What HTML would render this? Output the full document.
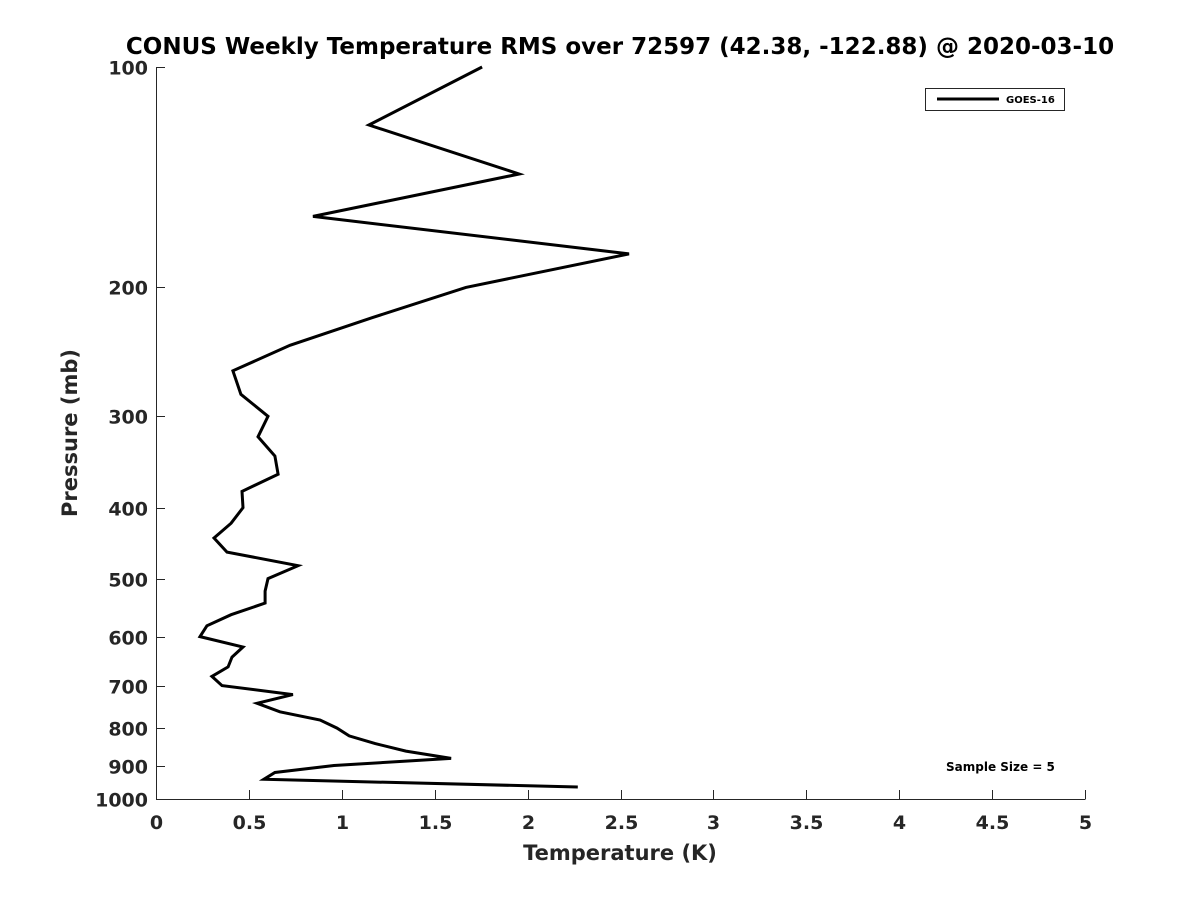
<!DOCTYPE html>
<html><head><meta charset="utf-8"><style>
body{margin:0;background:#fff}
svg text{font-family:"DejaVu Sans","Liberation Sans",sans-serif;font-weight:bold;fill:#262626}
</style></head><body>
<svg width="1200" height="900" xmlns="http://www.w3.org/2000/svg" id="svg">
<rect width="1200" height="900" fill="#fff"/>
<text x="620" y="54" font-size="23" text-anchor="middle" style="fill:#000">CONUS Weekly Temperature RMS over 72597 (42.38, -122.88) @ 2020-03-10</text>
<g id="axes"></g>
<polyline id="line" fill="none" stroke="#000" stroke-width="3" stroke-linejoin="miter"/>
<text x="620" y="860" font-size="21" text-anchor="middle">Temperature (K)</text>
<text transform="translate(77,433) rotate(-90)" font-size="21" text-anchor="middle">Pressure (mb)</text>
<g>
<rect x="925.5" y="88.5" width="139" height="22" fill="#fff" stroke="#262626" stroke-width="1"/>
<line x1="937" y1="99" x2="999" y2="99" stroke="#000" stroke-width="3"/>
<text x="1006" y="103" font-size="10" style="fill:#000">GOES-16</text>
</g>
<text x="946" y="771" font-size="12" style="fill:#000">Sample Size = 5</text>
</svg>
<script>
const temps=[1.755,1.146,1.954,0.845,2.546,1.668,1.163,0.721,0.414,0.457,0.603,0.549,0.640,0.657,0.463,0.468,0.404,0.312,0.382,0.764,0.603,0.587,0.587,0.404,0.274,0.237,0.468,0.409,0.388,0.301,0.355,0.737,0.544,0.667,0.883,0.974,1.04,1.18,1.345,1.588,0.958,0.640,0.581,2.27];
const pressures=[100,120,140,160,180,200,220,240,260,280,300,320,340,360,380,400,420,440,460,480,500,520,540,560,580,600,620,640,660,680,700,720,740,760,780,800,820,840,860,880,900,920,940,963];
const xTicks=[0,0.5,1,1.5,2,2.5,3,3.5,4,4.5,5];
const xTickLabels=["0","0.5","1","1.5","2","2.5","3","3.5","4","4.5","5"];
const yTicks=[100,200,300,400,500,600,700,800,900,1000];
const L=156,R=1085,T=67,B=799;
const xs=v=>L+(v-0)/5*(R-L);
const ys=p=>T+(Math.log10(p)-2)*(B-T);
const NS="http://www.w3.org/2000/svg";
const ax=document.getElementById('axes');
function mk(tag,attrs,parent){const e=document.createElementNS(NS,tag);for(const k in attrs)e.setAttribute(k,attrs[k]);(parent||ax).appendChild(e);return e;}
let a=mk('path',{d:`M${L+0.5},${T}V${B+0.5}H${R+0.5}`,fill:'none',stroke:'#262626','stroke-width':1});


xTicks.forEach((v,i)=>{const x=Math.round(xs(v))+0.5;
 const t=mk('line',{x1:x,x2:x,y1:B,y2:B-9,stroke:'#262626'});
 
 
 const l=mk('text',{x:x,y:B+30,'font-size':19,'text-anchor':'middle'});l.textContent=xTickLabels[i];
 
 
});
yTicks.forEach(p=>{const y=Math.round(ys(p))+0.5;
 const t=mk('line',{x1:L,x2:L+9,y1:y,y2:y,stroke:'#262626'});
 
 
 const l=mk('text',{x:L-8,y:y+7,'font-size':19,'text-anchor':'end'});l.textContent=String(p);
 
 
});
document.getElementById('line').setAttribute('points',temps.map((t,i)=>xs(t).toFixed(1)+','+ys(pressures[i]).toFixed(1)).join(' '));
</script>
</body></html>
